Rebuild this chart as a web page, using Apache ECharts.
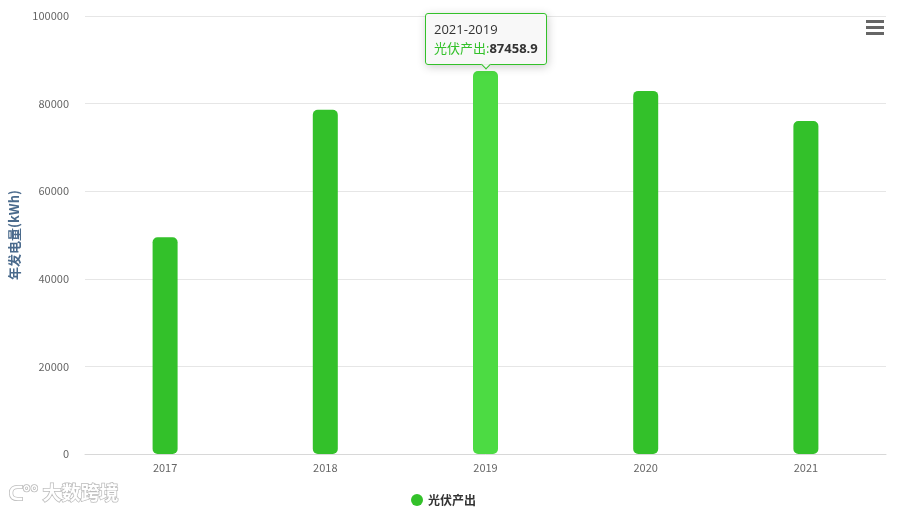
<!DOCTYPE html>
<html><head><meta charset="utf-8">
<script src="https://cdn.jsdelivr.net/npm/echarts@6/dist/echarts.min.js"></script>
<style>html,body{margin:0;padding:0;background:#fff}#c{width:917px;height:513px}</style>
</head><body><div id="c"></div>
<script>
const categories = ['2017', '2018', '2019', '2020', '2021'];
const seriesName = '光伏产出';
const values = [49500, 78600, 87458.9, 82900, 76000];
const yTicks = [0, 20000, 40000, 60000, 80000, 100000];
const axisTitle = '年发电量(kWh)';
const tipHeader = '2021-2019';

const baseColor = '#33c12a';
const hoverColor = '#4cdb43';
const chart = echarts.init(document.getElementById('c'));
chart.setOption({
  animation: false,
  textStyle: { fontFamily: '"Noto Sans CJK SC", "Open Sans", sans-serif' },
  grid: { left: 85, right: 31, top: 16, bottom: 59, containLabel: false },
  toolbox: {
    right: 33, top: 20, itemSize: 18, padding: 0,
    iconStyle: { color: '#666', borderColor: '#666', borderWidth: 0 },
    feature: { myMenu: { show: true, title: '', icon: 'path://M0,0h18v3H0z M0,6h18v3H0z M0,12h18v3H0z', onclick: function(){} } }
  },
  legend: {
    bottom: 2, left: 406, icon: 'circle', itemWidth: 12, itemHeight: 12, itemGap: 10,
    textStyle: { color: '#333', fontWeight: 'bold', fontSize: 12 },
    data: [seriesName]
  },
  tooltip: {
    trigger: 'item', position: 'top', alwaysShowContent: true,
    backgroundColor: 'rgba(247,247,247,0.9)', borderColor: baseColor, borderWidth: 1, borderRadius: 3,
    padding: [6, 8],
    extraCssText: 'margin-top:4px;',
    textStyle: { color: '#333', fontSize: 13 },
    formatter: function (p) {
      return '<div style="line-height:19px;font-family:Open Sans,Noto Sans CJK SC,sans-serif">' + tipHeader +
        '<br><span style="color:' + baseColor + '">' + p.seriesName + ':</span><b>' + p.value + '</b></div>';
    }
  },
  xAxis: {
    type: 'category', data: categories,
    axisLine: { lineStyle: { color: '#d8d8d8' } },
    axisTick: { show: false },
    axisLabel: { color: '#666', fontSize: 11, margin: 8 }
  },
  yAxis: {
    type: 'value', min: yTicks[0], max: yTicks[yTicks.length - 1], interval: yTicks[1] - yTicks[0],
    name: axisTitle, nameLocation: 'middle', nameGap: 64, nameRotate: 90,
    nameTextStyle: { color: '#4a6a8c', fontWeight: 'bold', fontSize: 13 },
    axisLine: { show: false }, axisTick: { show: false },
    axisLabel: { color: '#666', fontSize: 11, margin: 16, formatter: v => String(v) },
    splitLine: { lineStyle: { color: '#e6e6e6' } }
  },
  series: [{
    name: seriesName, type: 'bar', barWidth: 25,
    itemStyle: { color: baseColor, borderRadius: 5 },
    emphasis: { itemStyle: { color: hoverColor } },
    data: values.map((v, i) => i === 2 ? { value: v, itemStyle: { color: hoverColor } } : v)
  }],
  graphic: [{
    type: 'text', left: 8, top: 483,
    style: { text: 'ᑕ°° 大数跨境', fill: '#ffffff', stroke: '#bbbbbb', lineWidth: 1.5, fontSize: 19, fontWeight: 'bold', fontFamily: '"Noto Sans CJK SC", sans-serif' }
  }]
});
chart.dispatchAction({ type: 'showTip', seriesIndex: 0, dataIndex: 2 });
</script></body></html>
